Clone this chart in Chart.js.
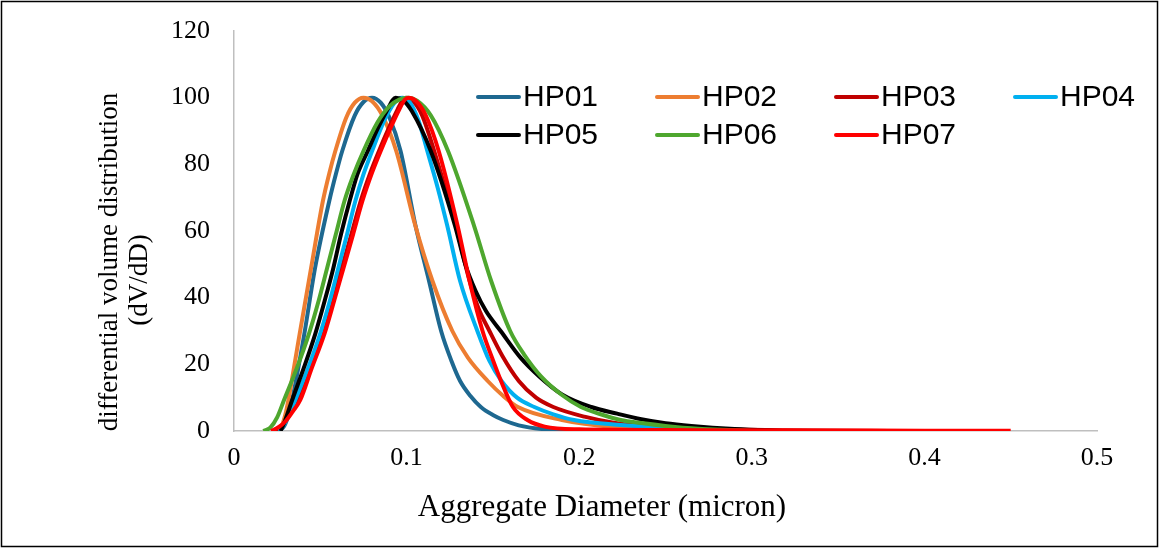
<!DOCTYPE html>
<html>
<head>
<meta charset="utf-8">
<title>Aggregate size distribution</title>
<script src="https://cdn.jsdelivr.net/npm/chart.js@4.4.1/dist/chart.umd.min.js"></script>
<style>
  html, body { margin: 0; padding: 0; background: #fff; }
  #wrap { width: 1159px; height: 548px; }
</style>
</head>
<body>
<div id="wrap"><canvas id="sizeChart" width="1159" height="548"></canvas></div>
<script>
// --- DATA ---
const seriesNames = ['HP01', 'HP02', 'HP03', 'HP04', 'HP05', 'HP06', 'HP07'];
const seriesColors = ['#1e6890', '#ed7d31', '#c00000', '#00b0f0', '#000000', '#4ea72e', '#ff0000'];

const hp01X = [0.026, 0.029, 0.0315, 0.0337, 0.0407, 0.047, 0.0552, 0.059, 0.0627, 0.070, 0.075, 0.080, 0.085, 0.090, 0.0965, 0.105, 0.113, 0.120, 0.126, 0.131, 0.137, 0.143, 0.150, 0.156, 0.165, 0.180, 0.200];
const hp01Y = [0, 1.4, 4.7, 9.3, 29, 49, 69, 77, 84, 94.7, 98.7, 100, 98.5, 94.1, 84, 62, 45, 30, 21, 15, 10.5, 7.2, 4.8, 3.3, 1.7, 0.5, 0];

const hp02X = [0.025, 0.028, 0.030, 0.0315, 0.038, 0.0447, 0.0515, 0.0553, 0.0587, 0.065, 0.070, 0.075, 0.080, 0.086, 0.094, 0.105, 0.115, 0.1265, 0.1355, 0.147, 0.156, 0.1645, 0.19, 0.22, 0.26, 0.30];
const hp02Y = [0, 2, 5.5, 9.3, 29, 49, 69, 77.5, 84, 94, 98.5, 100, 98.9, 94.6, 84, 61.7, 45, 30, 22, 15, 10.5, 7.2, 3.3, 1.2, 0.3, 0];

const hp03X = [0.024, 0.027, 0.030, 0.0335, 0.0374, 0.0438, 0.0515, 0.057, 0.0625, 0.068, 0.0734, 0.079, 0.084, 0.0898, 0.0948, 0.0978, 0.0995, 0.104, 0.109, 0.116, 0.1285, 0.1365, 0.1415, 0.148, 0.1555, 0.165, 0.175, 0.185, 0.203, 0.22, 0.25, 0.28, 0.32, 0.38];
const hp03Y = [0, 1.2, 3, 6, 9.3, 18.5, 29.3, 39, 49, 59, 69, 77.5, 84, 91, 96.5, 99.3, 100, 98.8, 94.7, 84, 61.7, 45, 37, 30, 22.5, 15, 10, 7.2, 4.3, 2.5, 1.0, 0.5, 0.2, 0];

const hp04X = [0.026, 0.029, 0.032, 0.0355, 0.043, 0.050, 0.0555, 0.0605, 0.0655, 0.0703, 0.075, 0.080, 0.087, 0.093, 0.0975, 0.102, 0.107, 0.112, 0.118, 0.1235, 0.131, 0.141, 0.148, 0.155, 0.164, 0.174, 0.185, 0.197, 0.224, 0.25, 0.28, 0.30];
const hp04Y = [0, 2, 5, 9.3, 19, 29.3, 39, 49, 59, 69, 77, 84, 93, 98.5, 100, 98.5, 93, 84, 73, 61.7, 45, 30, 21, 15, 10, 7.2, 5, 3.3, 1.8, 1, 0.3, 0];

const hp05X = [0.027, 0.0295, 0.0337, 0.0405, 0.047, 0.0525, 0.0576, 0.062, 0.067, 0.0715, 0.0775, 0.0835, 0.089, 0.092, 0.0936, 0.098, 0.103, 0.114, 0.128, 0.134, 0.140, 0.146, 0.1545, 0.166, 0.177, 0.19, 0.207, 0.222, 0.236, 0.25, 0.265, 0.29, 0.32];
const hp05Y = [0, 3, 9.3, 19, 29, 39, 49, 59, 69, 77, 84, 91, 96.5, 99.3, 100, 99.2, 96, 84, 61.7, 50, 42, 36, 30, 22, 16.3, 11, 7.2, 5.2, 3.5, 2.3, 1.5, 0.6, 0];

const hp06X = [0.017, 0.021, 0.025, 0.029, 0.0365, 0.0435, 0.049, 0.054, 0.059, 0.064, 0.069, 0.075, 0.083, 0.090, 0.096, 0.1005, 0.106, 0.114, 0.124, 0.139, 0.149, 0.160, 0.168, 0.178, 0.190, 0.201, 0.212, 0.224, 0.236, 0.26, 0.30];
const hp06Y = [0, 1, 4.1, 9.3, 19, 29.3, 39, 49, 59, 69, 76.5, 84, 92.5, 97.4, 99.5, 100, 99.1, 94.7, 84, 61.7, 45, 30, 23, 16.3, 10.8, 7.2, 5.1, 3.3, 2.4, 1, 0];

const hp07X = [0.0215, 0.026, 0.030, 0.034, 0.0384, 0.0448, 0.0525, 0.058, 0.0635, 0.069, 0.0744, 0.080, 0.085, 0.0908, 0.0958, 0.0988, 0.101, 0.105, 0.111, 0.1186, 0.1295, 0.1365, 0.144, 0.1495, 0.1547, 0.1616, 0.170, 0.180, 0.20, 0.25, 0.30, 0.35, 0.40, 0.45];
const hp07Y = [0, 1.2, 3, 5.8, 9.3, 18.5, 29.3, 39, 49, 59, 69, 77.5, 84, 91, 96.5, 99.3, 100, 99.2, 94.8, 84, 61.7, 45, 30, 22, 15, 7.2, 3.3, 1.3, 0.5, 0.3, 0.2, 0.15, 0.1, 0.1];

const xTickLabels = ['0', '0.1', '0.2', '0.3', '0.4', '0.5'];
const yTickLabels = ['0', '20', '40', '60', '80', '100', '120'];

const allX = [hp01X, hp02X, hp03X, hp04X, hp05X, hp06X, hp07X];
const allY = [hp01Y, hp02Y, hp03Y, hp04Y, hp05Y, hp06Y, hp07Y];

const serif = "'Liberation Serif', 'Times New Roman', serif";
const sans = "'Liberation Sans', Arial, sans-serif";

const datasets = seriesNames.map((name, i) => ({
    label: name,
    data: allX[i].map((x, j) => ({ x: x, y: allY[i][j] })),
    borderColor: seriesColors[i],
    backgroundColor: seriesColors[i],
    borderWidth: 4,
    pointRadius: 0,
    fill: false,
    cubicInterpolationMode: 'monotone',
    order: seriesNames.length - i   // later series drawn on top, like Excel
}));

// frame, axis titles and the two-row legend
const decorPlugin = {
    id: 'decor',
    afterDraw(chart) {
        const ctx = chart.ctx;
        ctx.save();
        ctx.strokeStyle = '#000';
        ctx.lineWidth = 1.5;
        ctx.strokeRect(1.5, 1.5, 1156, 545);

        ctx.fillStyle = '#000';
        ctx.textAlign = 'center';
        ctx.textBaseline = 'middle';
        ctx.font = '31px ' + serif;
        ctx.fillText('Aggregate Diameter (micron)', 602, 508);

        ctx.font = '27px ' + serif;
        ctx.translate(110, 262);
        ctx.rotate(-Math.PI / 2);
        ctx.fillText('differential volume distribution', 0, 0);
        ctx.fillText('(dV/dD)', -18, 30);
        ctx.restore();

        ctx.save();
        ctx.font = '30px ' + sans;
        ctx.textAlign = 'left';
        ctx.textBaseline = 'middle';
        seriesNames.forEach((name, i) => {
            const col = i % 4, row = Math.floor(i / 4);
            const x0 = 478 + col * 179, y0 = 97 + row * 38;
            ctx.strokeStyle = seriesColors[i];
            ctx.lineWidth = 4;
            ctx.lineCap = 'round';
            ctx.beginPath();
            ctx.moveTo(x0, y0);
            ctx.lineTo(x0 + 41, y0);
            ctx.stroke();
            ctx.fillStyle = '#000';
            ctx.fillText(name, x0 + 45, y0 + 1);
        });
        ctx.restore();
    }
};

const ctx = document.getElementById('sizeChart').getContext('2d');
const sizeChart = new Chart(ctx, {
    type: 'line',
    data: { datasets: datasets },
    options: {
        responsive: false,
        animation: false,
        devicePixelRatio: 1,
        layout: { padding: { top: 31, right: 62, left: 0, bottom: 0 } },
        plugins: { legend: { display: false }, tooltip: { enabled: false } },
        scales: {
            x: {
                type: 'linear',
                min: 0,
                max: 0.5,
                afterFit: s => { s.height = 117; s.paddingLeft = 0; s.paddingRight = 0; },
                afterBuildTicks: s => { s.ticks = xTickLabels.map(t => ({ value: Number(t) })); },
                grid: { display: false, drawTicks: false },
                border: { display: true, color: '#bfbfbf', width: 1.5 },
                ticks: {
                    padding: 12,
                    color: '#000',
                    font: { family: serif, size: 26 },
                    callback: (v, i) => xTickLabels[i]
                }
            },
            y: {
                min: 0,
                max: 120,
                afterFit: s => { s.width = 234; s.paddingTop = 0; s.paddingBottom = 0; },
                afterBuildTicks: s => { s.ticks = yTickLabels.map(t => ({ value: Number(t) })); },
                grid: { display: false, drawTicks: false },
                border: { display: true, color: '#bfbfbf', width: 1.5 },
                ticks: {
                    padding: 24,
                    color: '#000',
                    font: { family: serif, size: 26 },
                    callback: (v, i) => yTickLabels[i]
                }
            }
        }
    },
    plugins: [decorPlugin]
});
</script>
</body>
</html>
